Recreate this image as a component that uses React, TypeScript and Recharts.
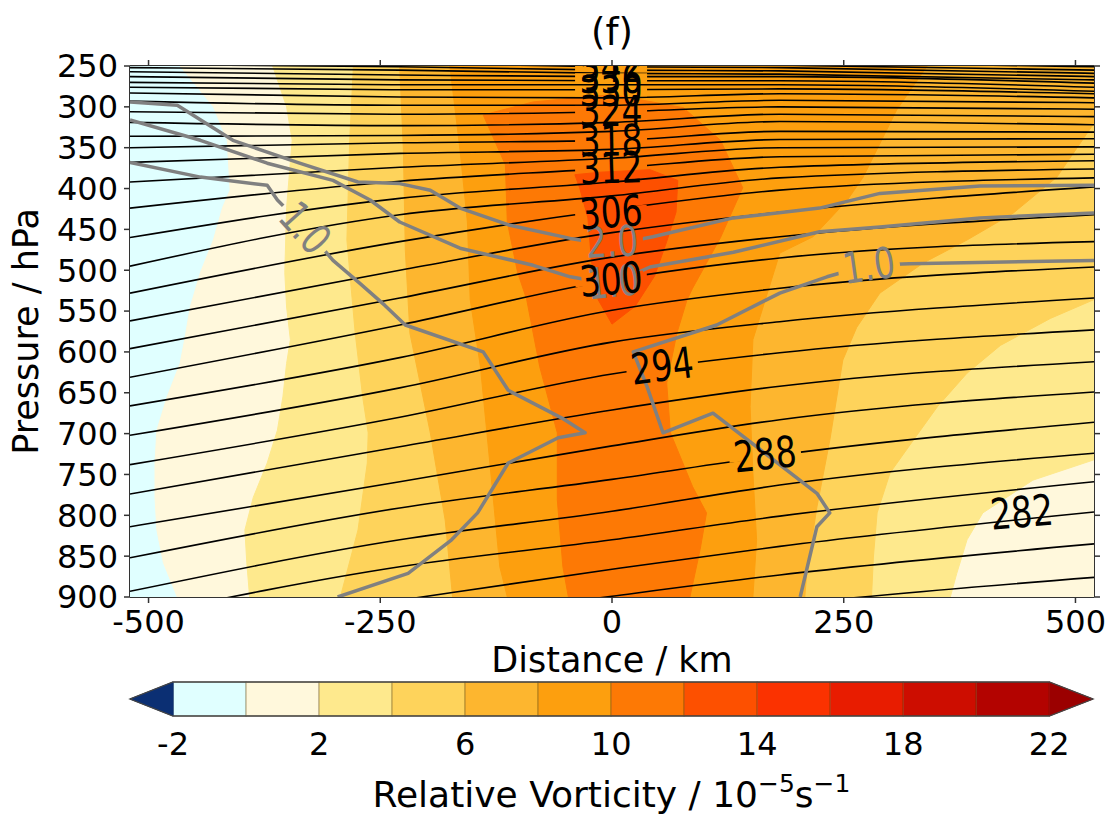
import React from 'react'
import { ComposedChart, Scatter, XAxis, YAxis, Label, Curve } from 'recharts'

const W = 1113
const H = 817
const FONT = 'DejaVu Sans'

// axes
const distanceDomain = [-520, 520]
const pressureDomain = [250, 900]
const distanceTicks = [-500, -250, 0, 250, 500]
const pressureTicks = [250, 300, 350, 400, 450, 500, 550, 600, 650, 700, 750, 800, 850, 900]

// colour scale of the filled vorticity field (10^-5 s^-1)
const vortLevels = [-2, 0, 2, 4, 6, 8, 10, 12, 14, 16, 18, 20, 22]
const vortColors = [
  '#e0ffff', '#fff8dc', '#fee98d', '#fed35b', '#fdb62f', '#fd9f0e',
  '#fd7905', '#fd5000', '#fb3200', '#e81c00', '#cd0d00', '#b30300',
]
const underColor = '#0b2f73'
const overColor = '#9b0000'
const colorbarTicks = [-2, 2, 6, 10, 14, 18, 22]
const colorbarDomain = [-3.18, 23.2]

// filled regions, [distance km, pressure hPa]: where vorticity exceeds a level
const plotBox = [[-520, 250], [520, 250], [520, 900], [-520, 900]]
const above0 = [[-466, 250], [-430, 300], [-415, 341], [-412, 402], [-420, 423], [-430, 463], [-444, 503], [-455, 545], [-461, 585], [-466, 614], [-480, 655], [-491, 696], [-493, 736], [-493, 778], [-491, 818], [-484, 858], [-469, 900], [520, 900], [520, 250]]
const above2 = [[-366, 250], [-351, 300], [-345, 341], [-351, 423], [-353, 503], [-351, 545], [-347, 585], [-351, 614], [-355, 655], [-361, 696], [-372, 736], [-387, 778], [-396, 818], [-394, 858], [-391, 900], [365, 900], [372, 871], [383, 830], [400, 797], [454, 757], [520, 732], [520, 250]]
const above4 = [[-279, 250], [-283, 341], [-286, 463], [-277, 577], [-269, 655], [-263, 699], [-264, 736], [-274, 818], [-293, 900], [280, 900], [282, 851], [286, 797], [300, 748], [325, 708], [351, 667], [383, 626], [419, 592], [473, 559], [520, 536], [520, 250]]
const above6 = [[-229, 250], [-225, 353], [-223, 475], [-218, 577], [-196, 699], [-180, 806], [-172, 900], [208, 900], [210, 871], [221, 790], [235, 708], [249, 610], [264, 570], [289, 528], [336, 491], [383, 463], [433, 430], [480, 386], [520, 320], [520, 250]]
const above8 = [[-175, 250], [-164, 353], [-156, 441], [-153, 536], [-142, 618], [-135, 699], [-128, 781], [-121, 863], [-113, 900], [152, 900], [156, 830], [152, 748], [149, 667], [152, 585], [181, 479], [217, 459], [254, 414], [271, 386], [307, 304], [340, 250]]
const above10 = [[-139, 310], [-115, 371], [-113, 441], [-102, 502], [-92, 536], [-78, 618], [-59, 699], [-59, 781], [-53, 863], [-47, 900], [84, 900], [95, 842], [102, 797], [87, 765], [63, 699], [59, 638], [70, 577], [81, 536], [87, 522], [117, 460], [141, 399], [117, 341], [77, 301], [0, 285], [-85, 294]]
const above12 = [[-40, 383], [-13, 380], [41, 377], [71, 390], [69, 429], [59, 465], [46, 507], [25, 544], [0, 566], [-15, 536], [-22, 490], [-26, 436], [-35, 399]]

// potential temperature contours (K): pressure at each station distance
const thetaStations = [-520, -229, 0, 181, 520]
const thetaLevels = [278, 280, 282, 284, 286, 288, 290, 292, 294, 296, 298, 300, 302, 304, 306, 308, 310, 312, 314, 316, 318, 320, 322, 324, 326, 328, 330, 332, 334, 336, 338, 340, 342, 344, 346]
const thetaPressure = [
  [1014, 971, 934, 910, 876],
  [983, 934, 899, 873, 835],
  [953, 904, 866, 838, 796],
  [925, 863, 830, 801, 759],
  [893, 830, 795, 763, 724],
  [852, 791, 756, 726, 686],
  [814, 759, 715, 683, 649],
  [774, 716, 671, 642, 612],
  [738, 680, 627, 601, 573],
  [702, 644, 588, 563, 534],
  [666, 607, 549, 522, 496],
  [631, 567, 512, 485, 465],
  [596, 534, 484, 459, 432],
  [562, 500, 454, 429, 398],
  [528, 465, 426, 402, 387],
  [495, 432, 409, 387, 376],
  [460, 412, 392, 374, 366],
  [424, 391, 375, 361, 358],
  [392, 374, 363, 350, 349],
  [368, 357, 352, 340, 339],
  [350, 344, 341, 330, 331],
  [336, 335, 330, 318, 322],
  [319, 323, 319, 309, 312],
  [306, 309, 306, 300, 303],
  [293, 298, 298, 292, 295],
  [283, 288, 289, 284, 289],
  [276, 279, 279, 278, 284],
  [270, 273, 273, 273, 281],
  [263, 267, 268, 268, 276],
  [257, 261, 263, 263, 271],
  [252, 255, 259, 260, 267],
  [248, 251, 255, 256, 263],
  [243, 246, 251, 252, 259],
  [238, 241, 246, 249, 255],
  [233, 236, 243, 245, 251],
]
// label: [theta, distance, pressure, angle]
const thetaLabels = [
  [282, 442, 796, -5], [288, 165, 725, -6], [294, 54, 617, -7], [300, -1, 511, -5],
  [306, -1, 429, -4], [312, -1, 375, -2], [318, -1, 341, -1], [324, -1, 305, 0],
  [330, -1, 281, 0], [336, -1, 265, 0], [342, -1, 251, 0],
]

// grey contours (1.0 and 2.0)
const grayTwo = [[-520, 294], [-469, 298], [-409, 341], [-337, 369], [-274, 392], [-229, 394], [-196, 402], [-164, 424], [-110, 445], [-45, 461], [0, 469], [44, 459], [131, 436], [224, 424], [289, 406], [397, 397], [520, 396]]
const grayOneUpper = [[-520, 316], [-444, 341], [-372, 369], [-301, 390], [-261, 414], [-229, 441], [-164, 473], [-85, 494], [-45, 508], [0, 517], [41, 496], [131, 478], [224, 453], [289, 447], [397, 436], [520, 430]]
const grayOneLeft = [[-520, 368], [-444, 386], [-372, 396], [-361, 414], [-331, 448], [-301, 488], [-272, 516], [-245, 543], [-223, 567], [-139, 600], [-112, 647], [-54, 681], [-29, 699], [-58, 705], [-112, 736], [-145, 797], [-173, 830], [-220, 871], [-296, 900]]
const grayOneRight = [[520, 488], [321, 492], [276, 494], [232, 508], [181, 528], [167, 536], [113, 567], [23, 600], [38, 643], [55, 699], [109, 675], [221, 773], [235, 797], [221, 814], [203, 900]]
// label: [text, distance, pressure, angle]
const grayLabels: [string, number, number, number][] = [
  ['1.0', -331, 448, 48], ['2.0', 0, 465, -3], ['1.0', 1, 514, -6], ['1.0', 277, 494, -8],
]

const tickStyle = { fill: '#000', fontSize: 32, fontFamily: FONT }
const NoDot = () => <g />
const NoTick = () => <g />
const toPts = (pairs: number[][]) => pairs.map(([x, p]) => ({ x, p }))
const pathOf = (points: any[], close: boolean) =>
  points.map((q, i) => `${i ? 'L' : 'M'}${q.x.toFixed(1)},${q.y.toFixed(1)}`).join('') + (close ? 'Z' : '')

const fillShape = (color: string, edge?: string, edgeWidth = 1) => (lp: any) => (
  <path d={pathOf(lp.points, true)} fill={color} stroke={edge ?? color} strokeWidth={edgeWidth} />
)

// masks cut gaps in the contour lines where the inline labels sit
const gapMask = (id: string, angles: number[], w: number, h: number) => (lp: any) => (
  <defs>
    <mask id={id} maskUnits="userSpaceOnUse" x={0} y={0} width={W} height={H}>
      <rect x={0} y={0} width={W} height={H} fill="#fff" />
      {lp.points.map((q: any, i: number) => (
        <rect key={i} x={q.x - w / 2} y={q.y - h / 2} width={w} height={h} fill="#000"
          transform={`rotate(${angles[i]} ${q.x} ${q.y})`} />
      ))}
    </mask>
  </defs>
)

const thetaLine = (lp: any) => (
  <g mask="url(#theta-gap)">
    <Curve points={lp.points} type="monotoneX" stroke="#000" strokeWidth={1.6} fill="none" />
  </g>
)

const grayLine = (lp: any) => (
  <g mask="url(#gray-gap)">
    <path d={pathOf(lp.points, false)} fill="none" stroke="#808080" strokeWidth={3.5} strokeLinejoin="round" />
  </g>
)

// inline contour labels are drawn a little taller than wide, like the source
const labelShape = (color: string) => (props: any) => {
  const { cx, cy, payload } = props
  return (
    <g transform={`translate(${cx} ${cy}) rotate(${payload.angle}) scale(1 1.3)`}>
      <text x={0} y={0} textAnchor="middle" dominantBaseline="central"
        fontSize={33} fontFamily={FONT} fill={color}>
        {payload.text}
      </text>
    </g>
  )
}

function MainChart() {
  const regions = [plotBox, above0, above2, above4, above6, above8, above10, above12]
  const thetaLabelData = thetaLabels.map(([t, x, p, a]) => ({ x, p, text: String(t), angle: a }))
  const grayLabelData = grayLabels.map(([t, x, p, a]) => ({ x, p, text: t, angle: a }))
  const grayLines = [grayTwo, grayOneUpper, grayOneLeft, grayOneRight]
  const axisLine = { stroke: '#333', strokeWidth: 2 }
  const tickLine = { stroke: '#333', strokeWidth: 1.5 }
  return (
    <ComposedChart width={W} height={H} margin={{ top: 60, right: 9, bottom: 168, left: 10 }}>
      <XAxis xAxisId="b" dataKey="x" type="number" domain={distanceDomain} allowDataOverflow
        ticks={distanceTicks} interval={0} height={52} tickSize={6} tickMargin={7}
        tick={tickStyle} axisLine={axisLine} tickLine={tickLine}>
        <Label value="Distance / km" position="bottom" offset={-2} fontSize={35} fill="#000" fontFamily={FONT} />
      </XAxis>
      <XAxis xAxisId="t" orientation="top" dataKey="x" type="number" domain={distanceDomain} allowDataOverflow
        ticks={distanceTicks} interval={0} height={6} tickSize={6} tick={NoTick}
        axisLine={axisLine} tickLine={tickLine}>
        <Label value="(f)" position="top" offset={15} fontSize={37} fill="#000" fontFamily={FONT} />
      </XAxis>
      <YAxis yAxisId="l" dataKey="p" type="number" domain={pressureDomain} reversed allowDataOverflow
        ticks={pressureTicks} interval={0} width={120} tickSize={6} tickMargin={6}
        tick={tickStyle} axisLine={axisLine} tickLine={tickLine}>
        <Label value="Pressure / hPa" angle={-90} position="insideLeft" offset={16}
          fontSize={35} fill="#000" fontFamily={FONT} style={{ textAnchor: 'middle' }} />
      </YAxis>
      <YAxis yAxisId="r" orientation="right" dataKey="p" type="number" domain={pressureDomain} reversed
        allowDataOverflow ticks={pressureTicks} interval={0} width={10} tickSize={6} tick={NoTick}
        axisLine={axisLine} tickLine={tickLine} />

      {regions.map((r, i) => (
        <Scatter key={`fill-${i}`} xAxisId="b" yAxisId="l" data={toPts(r)} shape={NoDot}
          line={fillShape(vortColors[i])} isAnimationActive={false} />
      ))}

      <Scatter xAxisId="b" yAxisId="l" data={thetaLabelData} shape={NoDot}
        line={gapMask('theta-gap', thetaLabelData.map(d => d.angle), 72, 10)} isAnimationActive={false} />
      <Scatter xAxisId="b" yAxisId="l" data={grayLabelData} shape={NoDot}
        line={gapMask('gray-gap', grayLabelData.map(d => d.angle), 62, 16)} isAnimationActive={false} />

      {thetaLevels.map((t, i) => (
        <Scatter key={`theta-${t}`} xAxisId="b" yAxisId="l"
          data={thetaStations.map((x, j) => ({ x, p: thetaPressure[i][j] }))}
          shape={NoDot} line={thetaLine} isAnimationActive={false} />
      ))}

      {grayLines.map((g, i) => (
        <Scatter key={`gray-${i}`} xAxisId="b" yAxisId="l" data={toPts(g)} shape={NoDot}
          line={grayLine} isAnimationActive={false} />
      ))}

      <Scatter xAxisId="b" yAxisId="l" data={grayLabelData} shape={labelShape('#808080')} isAnimationActive={false} />
      <Scatter xAxisId="b" yAxisId="l" data={thetaLabelData} shape={labelShape('#000')} isAnimationActive={false} />
    </ComposedChart>
  )
}

const ColorbarTitle = (props: any) => {
  const vb = props.viewBox ?? { x: 130, y: 56, width: 963, height: 40 }
  const cx = vb.x + vb.width / 2
  return (
    <text x={cx} y={vb.y + 91} textAnchor="middle" fontSize={36} fontFamily={FONT} fill="#000">
      Relative Vorticity / 10
      <tspan dy={-15} fontSize={25}>−5</tspan>
      <tspan dy={15}>s</tspan>
      <tspan dy={-15} fontSize={25}>−1</tspan>
    </text>
  )
}

function ColorBar() {
  const segments = vortColors.map((c, i) => ({
    c,
    pts: [[vortLevels[i], 0], [vortLevels[i + 1], 0], [vortLevels[i + 1], 1], [vortLevels[i], 1]],
  }))
  const lo = vortLevels[0]
  const hi = vortLevels[vortLevels.length - 1]
  const underTri = [[colorbarDomain[0], 0.5], [lo, 0], [lo, 1]]
  const overTri = [[hi, 0], [colorbarDomain[1], 0.5], [hi, 1]]
  const outline = [[lo, 0], [hi, 0], [colorbarDomain[1], 0.5], [hi, 1], [lo, 1], [colorbarDomain[0], 0.5]]
  return (
    <ComposedChart width={W} height={157} margin={{ top: 22, right: 20, bottom: 61, left: 130 }}>
      <XAxis dataKey="x" type="number" domain={colorbarDomain} ticks={colorbarTicks} interval={0}
        height={40} axisLine={false} tickLine={false} tickSize={8} tickMargin={8} tick={tickStyle}>
        <Label content={ColorbarTitle} />
      </XAxis>
      <YAxis dataKey="p" type="number" domain={[0, 1]} hide />
      {segments.map((s, i) => (
        <Scatter key={`seg-${i}`} data={toPts(s.pts)} shape={NoDot}
          line={fillShape(s.c, 'rgba(90,60,0,0.28)', 1.5)} isAnimationActive={false} />
      ))}
      <Scatter data={toPts(underTri)} shape={NoDot} line={fillShape(underColor)} isAnimationActive={false} />
      <Scatter data={toPts(overTri)} shape={NoDot} line={fillShape(overColor)} isAnimationActive={false} />
      <Scatter data={toPts(outline)} shape={NoDot} isAnimationActive={false}
        line={(lp: any) => <path d={pathOf(lp.points, true)} fill="none" stroke="#444" strokeWidth={1.3} />} />
    </ComposedChart>
  )
}

export default function App() {
  return (
    <div style={{ position: 'absolute', left: 0, top: 0, width: W, height: H, background: '#fff', fontFamily: FONT }}>
      <div style={{ position: 'absolute', left: 0, top: 0 }}>
        <MainChart />
      </div>
      <div style={{ position: 'absolute', left: 0, top: 660 }}>
        <ColorBar />
      </div>
    </div>
  )
}
